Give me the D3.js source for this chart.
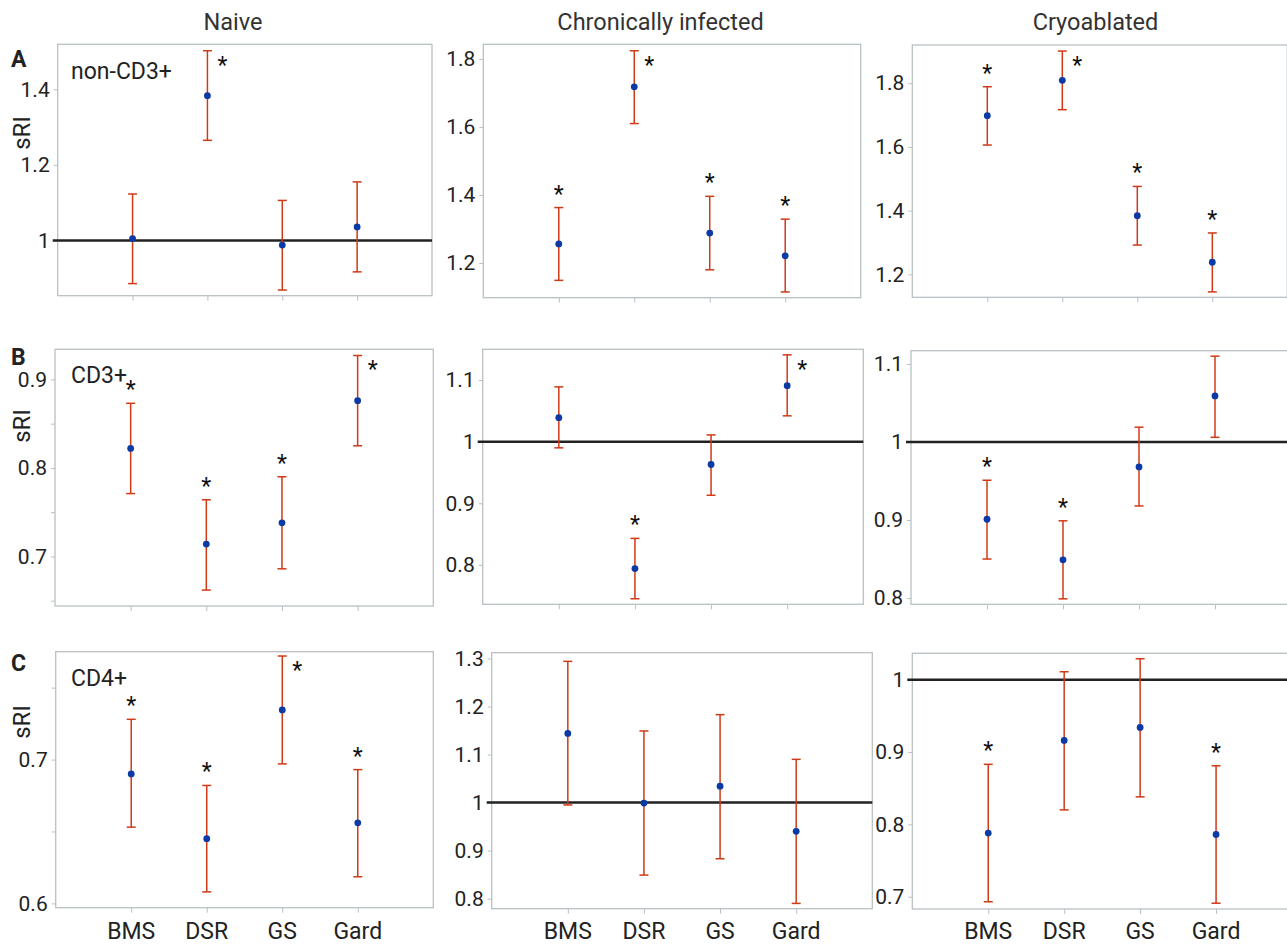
<!DOCTYPE html>
<html>
<head>
<meta charset="utf-8">
<script src="https://cdn.jsdelivr.net/npm/d3@7"></script>
<style>
  body { margin: 0; background: #fff; }
  text { font-family: Roboto, "Noto Sans", sans-serif; }
</style>
</head>
<body>
<div id="chart"></div>
<script>
        var width = 1287;
        var height = 945;

        // categories, columns and rows
        var categories = ["BMS", "DSR", "GS", "Gard"];
        var columns = ["Naive", "Chronically infected", "Cryoablated"];
        var rows = ["A", "B", "C"];
        var cellTypes = ["non-CD3+", "CD3+", "CD4+"];

        // means per row, [naive, chronic, cryo] x [BMS, DSR, GS, Gard]
        var meanA = [[1.005, 1.383, 0.988, 1.036], [1.256, 1.718, 1.288, 1.221], [1.698, 1.809, 1.384, 1.238]];
        var meanB = [[0.822, 0.714, 0.738, 0.876], [1.039, 0.794, 0.963, 1.091], [0.901, 0.849, 0.968, 1.059]];
        var meanC = [[0.690, 0.645, 0.7345, 0.656], [1.144, 0.999, 1.034, 0.940], [0.788, 0.916, 0.934, 0.786]];

        var lowA = [[0.886, 1.265, 0.869, 0.917], [1.149, 1.610, 1.180, 1.115], [1.606, 1.717, 1.292, 1.145]];
        var lowB = [[0.771, 0.662, 0.686, 0.825], [0.990, 0.745, 0.913, 1.042], [0.850, 0.799, 0.918, 1.006]];
        var lowC = [[0.653, 0.608, 0.697, 0.6185], [0.995, 0.849, 0.883, 0.790], [0.693, 0.820, 0.838, 0.691]];

        var highA = [[1.123, 1.502, 1.106, 1.155], [1.363, 1.824, 1.396, 1.329], [1.789, 1.901, 1.476, 1.330]];
        var highB = [[0.873, 0.764, 0.790, 0.927], [1.089, 0.843, 1.011, 1.141], [0.951, 0.899, 1.019, 1.110]];
        var highC = [[0.728, 0.682, 0.772, 0.693], [1.294, 1.149, 1.183, 1.090], [0.883, 1.011, 1.029, 0.881]];

        // significance flags (1 = asterisk)
        var sigA = [[0, 1, 0, 0], [1, 1, 1, 1], [1, 1, 1, 1]];
        var sigB = [[1, 1, 1, 1], [0, 1, 0, 1], [1, 1, 0, 0]];
        var sigC = [[1, 1, 1, 1], [0, 0, 0, 0], [1, 0, 0, 1]];

        // axis domains and tick labels
        var domainA = [[0.854, 1.519], [1.098, 1.843], [1.128, 1.92]];
        var domainB = [[0.644, 0.934], [0.736, 1.15], [0.792, 1.117]];
        var domainC = [[0.597, 0.775], [0.779, 1.312], [0.683, 1.0365]];

        var ticksA = [[1, 1.2, 1.4], [1.2, 1.4, 1.6, 1.8], [1.2, 1.4, 1.6, 1.8]];
        var ticksB = [[0.7, 0.8, 0.9], [0.8, 0.9, 1, 1.1], [0.8, 0.9, 1, 1.1]];
        var ticksC = [[0.6, 0.7], [0.8, 0.9, 1, 1.1, 1.2, 1.3], [0.7, 0.8, 0.9, 1]];
        var minorB = [[0.65, 0.75, 0.85], [], []];
        var minorC = [[0.65, 0.75], [], []];

        var means = [meanA, meanB, meanC];
        var lows = [lowA, lowB, lowC];
        var highs = [highA, highB, highC];
        var sigs = [sigA, sigB, sigC];
        var domains = [domainA, domainB, domainC];
        var ticks = [ticksA, ticksB, ticksC];
        var minors = [[[], [], []], minorB, minorC];

        // panel frames [left, top, right, bottom]
        var frames = [
            [[57.7, 44.3, 432, 295.7], [483.3, 44.3, 860.7, 297.7], [912.3, 45, 1287.3, 297.3]],
            [[55, 349.3, 433.3, 606], [482.7, 349.3, 863.3, 604.3], [911, 350.7, 1291, 604.3]],
            [[55.7, 651.7, 433.3, 907.7], [491.7, 652.7, 872.3, 908.7], [912.3, 653.3, 1292, 909]]
        ];
        var colCenters = [233, 660.5, 1095.5];
        var sriY = [133, 426, 722];
        var letterY = [67, 365, 671];
        var typeY = [79, 383, 686];

        var barColor = "#cf3a17";
        var dotColor = "#0b3aa5";
        var frameColor = "#b9c0c4";
        var fmt = d3.format("~g");

        var svg = d3.select("#chart")
                    .append("svg")
                    .attr("width", width)
                    .attr("height", height);

        // column titles
        svg.selectAll(".coltitle")
            .data(columns)
            .enter()
            .append("text")
            .attr("class", "coltitle")
            .attr("x", function(d, i){ return colCenters[i]; })
            .attr("y", 30)
            .attr("text-anchor", "middle")
            .style("font-size", "23.5px")
            .style("fill", "#333")
            .text(function(d){ return d; });

        rows.forEach(function(rowName, r){
            // row letter, type label, y title
            svg.append("text")
                .attr("x", 11)
                .attr("y", letterY[r])
                .style("font-size", "23px")
                .style("font-weight", "bold")
                .style("fill", "#222")
                .text(rowName);

            svg.append("text")
                .attr("transform", "translate(30," + sriY[r] + ") rotate(-90)")
                .attr("text-anchor", "middle")
                .style("font-size", "24px")
                .style("fill", "#222")
                .text("sRI");

            columns.forEach(function(colName, c){
                var f = frames[r][c];
                var g = svg.append("g");

                var x = d3.scaleLinear().domain([0, 5]).range([f[0], f[2]]);
                var y = d3.scaleLinear().domain(domains[r][c]).range([f[3], f[1]]);

                // frame
                g.append("rect")
                    .attr("x", f[0])
                    .attr("y", f[1])
                    .attr("width", f[2] - f[0])
                    .attr("height", f[3] - f[1])
                    .attr("fill", "none")
                    .attr("stroke", frameColor)
                    .attr("stroke-width", 1.3);

                // y axis
                var yAxis = d3.axisLeft(y)
                    .tickValues(ticks[r][c])
                    .tickFormat(fmt)
                    .tickSize(4)
                    .tickPadding(4);
                var ya = g.append("g")
                    .attr("transform", "translate(" + f[0] + ",0)")
                    .call(yAxis);
                ya.select(".domain").remove();
                ya.selectAll(".tick line").attr("stroke", frameColor);
                ya.selectAll(".tick text")
                    .style("font-size", "21px")
                    .style("fill", "#222")
                    .style("font-family", "Roboto, sans-serif");

                if (minors[r][c].length){
                    var ym = g.append("g")
                        .attr("transform", "translate(" + f[0] + ",0)")
                        .call(d3.axisLeft(y).tickValues(minors[r][c]).tickFormat("").tickSize(4));
                    ym.select(".domain").remove();
                    ym.selectAll(".tick line").attr("stroke", frameColor);
                }

                // x axis
                var xAxis = d3.axisBottom(x)
                    .tickValues([1, 2, 3, 4])
                    .tickFormat("")
                    .tickSize(5);
                var xa = g.append("g")
                    .attr("transform", "translate(0," + f[3] + ")")
                    .call(xAxis);
                xa.select(".domain").remove();
                xa.selectAll(".tick line").attr("stroke", frameColor);

                if (r == 2){
                    g.selectAll(".catlabel")
                        .data(categories)
                        .enter()
                        .append("text")
                        .attr("class", "catlabel")
                        .attr("x", function(d, i){ return x(i + 1); })
                        .attr("y", 939)
                        .attr("text-anchor", "middle")
                        .style("font-size", "23px")
                        .style("fill", "#222")
                        .text(function(d){ return d; });
                }

                // reference line at 1
                var yd = domains[r][c];
                if (yd[0] < 1 && yd[1] > 1){
                    g.append("line")
                        .attr("x1", f[0] - 5)
                        .attr("x2", f[2])
                        .attr("y1", y(1))
                        .attr("y2", y(1))
                        .attr("stroke", "#222")
                        .attr("stroke-width", 2.6);
                }

                var pts = categories.map(function(cat, i){
                    return {
                        cat: i + 1,
                        mean: means[r][c][i],
                        lo: lows[r][c][i],
                        hi: highs[r][c][i],
                        sig: sigs[r][c][i]
                    };
                });

                var bars = g.selectAll(".bar")
                    .data(pts)
                    .enter()
                    .append("g");

                bars.append("line")
                    .attr("x1", function(d){ return x(d.cat); })
                    .attr("x2", function(d){ return x(d.cat); })
                    .attr("y1", function(d){ return y(d.lo); })
                    .attr("y2", function(d){ return y(d.hi); })
                    .attr("stroke", barColor)
                    .attr("stroke-width", 1.5);

                ["lo", "hi"].forEach(function(k){
                    bars.append("line")
                        .attr("x1", function(d){ return x(d.cat) - 4.5; })
                        .attr("x2", function(d){ return x(d.cat) + 4.5; })
                        .attr("y1", function(d){ return y(d[k]); })
                        .attr("y2", function(d){ return y(d[k]); })
                        .attr("stroke", barColor)
                        .attr("stroke-width", 1.5);
                });

                bars.append("circle")
                    .attr("cx", function(d){ return x(d.cat); })
                    .attr("cy", function(d){ return y(d.mean); })
                    .attr("r", 3.4)
                    .attr("fill", dotColor);

                // asterisks: above the cap, or to the right when there is no room
                bars.filter(function(d){ return d.sig; })
                    .append("text")
                    .attr("x", function(d){
                        return y(d.hi) - 22 < f[1] ? x(d.cat) + 10 : x(d.cat);
                    })
                    .attr("y", function(d){
                        return y(d.hi) - 22 < f[1] ? y(d.hi) + 22 : y(d.hi) - 6;
                    })
                    .attr("text-anchor", function(d){
                        return y(d.hi) - 22 < f[1] ? "start" : "middle";
                    })
                    .style("font-size", "23px")
                    .style("fill", "#111")
                    .text("*");

                if (c == 0){
                    svg.append("text")
                        .attr("x", 71)
                        .attr("y", typeY[r])
                        .style("font-size", "23px")
                        .style("fill", "#222")
                        .text(cellTypes[r]);
                }
            });
        });
</script>
</body>
</html>
